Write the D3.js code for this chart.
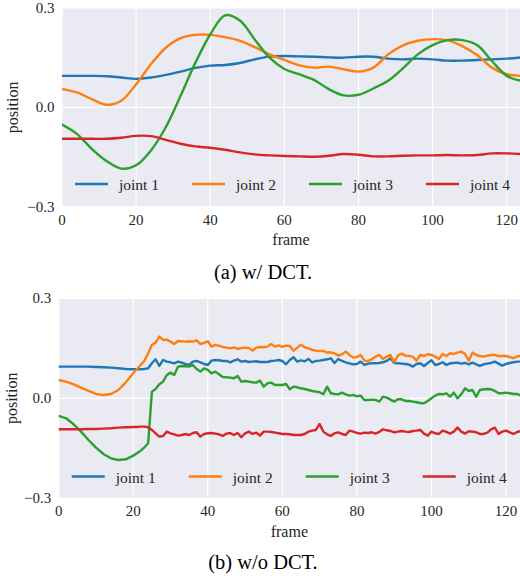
<!DOCTYPE html>
<html>
<head>
<meta charset="utf-8">
<script src="https://cdn.jsdelivr.net/npm/d3@7"></script>
<style>
  html, body { margin: 0; padding: 0; background: #fff; }
  svg text { font-family: "Liberation Serif", "Times New Roman", Times, serif; }
</style>
</head>
<body>
<div id="chart"></div>
<script>
const W = 520, H = 579;
const FONT = "'Liberation Serif', 'Times New Roman', Times, serif";

const seriesNames = ["joint 1", "joint 2", "joint 3", "joint 4"];
const colors = ["#1f77b4", "#ff7f0e", "#2ca02c", "#d62728"];
const xTicks = [0, 20, 40, 60, 80, 100, 120];
const yTicks = [-0.3, 0.0, 0.3];

// (a) w/ DCT -- smooth curves, sampled every 4 frames
const framesA = [0, 4, 8, 12, 16, 20, 24, 28, 32, 36, 40, 44, 48, 52, 56, 60,
  64, 68, 72, 76, 80, 84, 88, 92, 96, 100, 104, 108, 112, 116, 120, 124];
const joint1A = [0.095, 0.095, 0.095, 0.094, 0.090, 0.086, 0.090, 0.098, 0.108, 0.119, 0.126, 0.128, 0.134, 0.145, 0.153, 0.155,
  0.154, 0.153, 0.151, 0.150, 0.153, 0.153, 0.147, 0.145, 0.147, 0.145, 0.141, 0.141, 0.143, 0.145, 0.147, 0.151];
const joint2A = [0.055, 0.045, 0.025, 0.008, 0.020, 0.070, 0.130, 0.180, 0.209, 0.219, 0.219, 0.212, 0.201, 0.182, 0.160, 0.143,
  0.127, 0.120, 0.123, 0.115, 0.108, 0.120, 0.160, 0.187, 0.201, 0.206, 0.202, 0.185, 0.158, 0.120, 0.100, 0.095];
const joint3A = [-0.052, -0.080, -0.125, -0.162, -0.185, -0.175, -0.130, -0.060, 0.035, 0.135, 0.220, 0.278, 0.262, 0.205, 0.150, 0.116,
  0.100, 0.083, 0.055, 0.036, 0.038, 0.057, 0.080, 0.118, 0.160, 0.188, 0.203, 0.203, 0.188, 0.140, 0.095, 0.080];
const joint4A = [-0.095, -0.095, -0.095, -0.095, -0.092, -0.086, -0.087, -0.098, -0.110, -0.118, -0.122, -0.128, -0.136, -0.142, -0.145, -0.147,
  -0.148, -0.149, -0.146, -0.141, -0.143, -0.148, -0.148, -0.146, -0.145, -0.145, -0.144, -0.145, -0.144, -0.139, -0.139, -0.141];

// (b) w/o DCT -- every 2 frames up to 20, then every frame (21..124)
const framesB = [0, 2, 4, 6, 8, 10, 12, 14, 16, 18, 20].concat(d3.range(21, 125));
const joint1B = [0.095, 0.095, 0.095, 0.095, 0.095, 0.094, 0.093, 0.092, 0.090, 0.088, 0.087,
  0.087, 0.087, 0.088, 0.090, 0.105, 0.117, 0.097, 0.115, 0.110, 0.108,
  0.105, 0.110, 0.107, 0.103, 0.100, 0.110, 0.112, 0.108, 0.103, 0.100,
  0.113, 0.115, 0.114, 0.112, 0.112, 0.108, 0.113, 0.117, 0.110, 0.112,
  0.109, 0.110, 0.111, 0.109, 0.109, 0.109, 0.112, 0.113, 0.115, 0.112,
  0.102, 0.115, 0.123, 0.110, 0.114, 0.111, 0.118, 0.108, 0.112, 0.113,
  0.115, 0.117, 0.120, 0.106, 0.118, 0.112, 0.108, 0.105, 0.102, 0.103,
  0.110, 0.100, 0.104, 0.105, 0.105, 0.106, 0.108, 0.112, 0.120, 0.106,
  0.105, 0.104, 0.103, 0.101, 0.095, 0.103, 0.105, 0.097, 0.106, 0.114,
  0.100, 0.103, 0.108, 0.100, 0.105, 0.106, 0.107, 0.104, 0.106, 0.102,
  0.107, 0.102, 0.097, 0.102, 0.104, 0.106, 0.110, 0.104, 0.098, 0.103,
  0.106, 0.108, 0.110, 0.110];
const joint2B = [0.055, 0.050, 0.042, 0.032, 0.022, 0.013, 0.010, 0.013, 0.025, 0.048, 0.075,
  0.088, 0.100, 0.113, 0.135, 0.160, 0.167, 0.185, 0.175, 0.176, 0.170,
  0.163, 0.172, 0.171, 0.170, 0.171, 0.170, 0.174, 0.163, 0.166, 0.171,
  0.155, 0.160, 0.158, 0.154, 0.152, 0.150, 0.153, 0.148, 0.151, 0.152,
  0.151, 0.143, 0.152, 0.154, 0.153, 0.155, 0.163, 0.155, 0.159, 0.154,
  0.158, 0.157, 0.143, 0.152, 0.161, 0.153, 0.150, 0.145, 0.143, 0.142,
  0.142, 0.137, 0.138, 0.135, 0.128, 0.132, 0.140, 0.130, 0.122, 0.124,
  0.130, 0.113, 0.112, 0.117, 0.125, 0.130, 0.118, 0.125, 0.130, 0.108,
  0.128, 0.134, 0.128, 0.127, 0.125, 0.113, 0.130, 0.127, 0.132, 0.130,
  0.125, 0.118, 0.133, 0.127, 0.135, 0.133, 0.137, 0.140, 0.133, 0.113,
  0.137, 0.130, 0.127, 0.125, 0.128, 0.130, 0.130, 0.127, 0.127, 0.127,
  0.124, 0.120, 0.126, 0.127];
const joint3B = [-0.053, -0.060, -0.078, -0.100, -0.125, -0.148, -0.167, -0.180, -0.185, -0.183, -0.172,
  -0.165, -0.157, -0.147, -0.135, 0.020, 0.028, 0.042, 0.050, 0.070, 0.077,
  0.070, 0.095, 0.097, 0.096, 0.095, 0.100, 0.088, 0.080, 0.090, 0.085,
  0.075, 0.080, 0.072, 0.064, 0.063, 0.062, 0.060, 0.067, 0.050, 0.052,
  0.050, 0.048, 0.047, 0.053, 0.035, 0.045, 0.047, 0.040, 0.040, 0.040,
  0.043, 0.027, 0.035, 0.033, 0.030, 0.028, 0.025, 0.022, 0.020, 0.018,
  0.012, 0.035, 0.015, 0.013, 0.012, 0.017, 0.012, 0.008, 0.010, 0.006,
  0.008, -0.005, -0.005, -0.004, -0.005, -0.010, 0.005, 0.002, -0.004, -0.010,
  -0.003, -0.003, -0.008, -0.008, -0.010, -0.012, -0.014, -0.015, -0.008, 0.000,
  0.008, 0.013, 0.012, 0.015, 0.005, 0.017, 0.000, 0.012, 0.030, 0.022,
  0.025, 0.005, 0.025, 0.027, 0.028, 0.027, 0.022, 0.015, 0.015, 0.017,
  0.015, 0.013, 0.013, 0.008];
const joint4B = [-0.093, -0.093, -0.093, -0.093, -0.092, -0.092, -0.091, -0.090, -0.088, -0.087, -0.086,
  -0.086, -0.085, -0.085, -0.087, -0.095, -0.105, -0.115, -0.113, -0.100, -0.105,
  -0.108, -0.112, -0.110, -0.107, -0.110, -0.104, -0.102, -0.115, -0.107, -0.105,
  -0.104, -0.106, -0.108, -0.113, -0.106, -0.104, -0.110, -0.104, -0.117, -0.105,
  -0.100, -0.107, -0.103, -0.112, -0.100, -0.100, -0.101, -0.103, -0.105, -0.107,
  -0.107, -0.108, -0.110, -0.110, -0.110, -0.107, -0.100, -0.097, -0.095, -0.077,
  -0.100, -0.108, -0.113, -0.105, -0.102, -0.107, -0.110, -0.097, -0.100, -0.104,
  -0.106, -0.103, -0.104, -0.102, -0.106, -0.101, -0.093, -0.096, -0.098, -0.102,
  -0.100, -0.098, -0.100, -0.101, -0.098, -0.097, -0.095, -0.106, -0.112, -0.100,
  -0.105, -0.107, -0.097, -0.101, -0.106, -0.100, -0.088, -0.100, -0.106, -0.099,
  -0.100, -0.102, -0.107, -0.107, -0.103, -0.093, -0.088, -0.107, -0.100, -0.097,
  -0.102, -0.107, -0.101, -0.098];

const panels = [
  { id: "a", caption: "(a) w/ DCT.", frames: framesA, series: [joint1A, joint2A, joint3A, joint4A],
    left: 62, top: 8, bottom: 206.7, pxPerFrame: 3.706, legendY: 184, curve: d3.curveCatmullRom.alpha(0.5),
    labelX: 18, captionY: 279 },
  { id: "b", caption: "(b) w/o DCT.", frames: framesB, series: [joint1B, joint2B, joint3B, joint4B],
    left: 58.7, top: 298.3, bottom: 498.3, pxPerFrame: 3.7275, legendY: 476.5, curve: d3.curveLinear,
    labelX: 16.5, captionY: 569 }
];

const svg = d3.select("#chart").append("svg")
  .attr("width", W).attr("height", H)
  .attr("font-family", FONT);
svg.append("rect").attr("width", W).attr("height", H).attr("fill", "#fff");

const fmt = v => (v < 0 ? "\u2212" : "") + Math.abs(v).toFixed(1);

panels.forEach(p => {
  const x = d3.scaleLinear().domain([0, 124]).range([p.left, p.left + 124 * p.pxPerFrame]);
  const y = d3.scaleLinear().domain([-0.3, 0.3]).range([p.bottom, p.top]);
  const right = Math.min(W, x(124));
  const g = svg.append("g");

  g.append("clipPath").attr("id", "clip-" + p.id)
    .append("rect").attr("x", p.left).attr("y", p.top)
    .attr("width", right - p.left).attr("height", p.bottom - p.top);

  g.append("rect")
    .attr("x", p.left).attr("y", p.top)
    .attr("width", right - p.left).attr("height", p.bottom - p.top)
    .attr("fill", "#eaeaf2");

  // grid
  g.selectAll(".vgrid").data(xTicks).enter().append("line")
    .attr("x1", d => x(d)).attr("x2", d => x(d))
    .attr("y1", p.top).attr("y2", p.bottom)
    .attr("stroke", "#fff").attr("stroke-width", 1.2);
  g.selectAll(".hgrid").data(yTicks).enter().append("line")
    .attr("x1", p.left).attr("x2", right)
    .attr("y1", d => y(d)).attr("y2", d => y(d))
    .attr("stroke", "#fff").attr("stroke-width", 1.2);

  // tick labels
  g.selectAll(".xt").data(xTicks).enter().append("text")
    .attr("x", d => x(d)).attr("y", p.bottom + 18)
    .attr("text-anchor", "middle").attr("font-size", "15px").attr("fill", "#262626")
    .attr("font-family", FONT)
    .text(d => d);
  g.selectAll(".yt").data(yTicks).enter().append("text")
    .attr("x", p.left - 7.5).attr("y", d => y(d) + 5)
    .attr("text-anchor", "end").attr("font-size", "15px").attr("fill", "#262626")
    .attr("font-family", FONT)
    .text(fmt);

  g.append("text")
    .attr("x", (p.left + right) / 2).attr("y", p.bottom + 38.5)
    .attr("text-anchor", "middle").attr("font-size", "16px").attr("fill", "#262626")
    .attr("font-family", FONT)
    .text("frame");
  g.append("text")
    .attr("transform", `translate(${p.labelX},${(p.top + p.bottom) / 2}) rotate(-90)`)
    .attr("text-anchor", "middle").attr("font-size", "16px").attr("fill", "#262626")
    .attr("font-family", FONT)
    .text("position");

  // lines
  const line = d3.line()
    .x((d, i) => x(p.frames[i]))
    .y(d => y(d))
    .curve(p.curve);
  g.append("g").attr("clip-path", `url(#clip-${p.id})`)
    .selectAll("path").data(p.series).enter().append("path")
    .attr("d", d => line(d))
    .attr("fill", "none")
    .attr("stroke", (d, i) => colors[i])
    .attr("stroke-width", 2.4)
    .attr("stroke-linejoin", "round")
    .attr("stroke-linecap", "round");

  // legend
  const lg = g.selectAll(".leg").data(seriesNames).enter().append("g")
    .attr("transform", (d, i) => `translate(${p.left + 13 + i * 117},${p.legendY})`);
  lg.append("line").attr("x1", 0).attr("x2", 33).attr("y1", 0).attr("y2", 0)
    .attr("stroke", (d, i) => colors[i]).attr("stroke-width", 2.4);
  lg.append("text").attr("x", 44).attr("y", 6)
    .attr("font-size", "15.5px").attr("fill", "#262626")
    .attr("font-family", FONT)
    .text(d => d);

  // caption
  svg.append("text")
    .attr("x", 263).attr("y", p.captionY)
    .attr("text-anchor", "middle").attr("font-size", "20.5px").attr("fill", "#000")
    .attr("font-family", FONT)
    .text(p.caption);
});
</script>
</body>
</html>
